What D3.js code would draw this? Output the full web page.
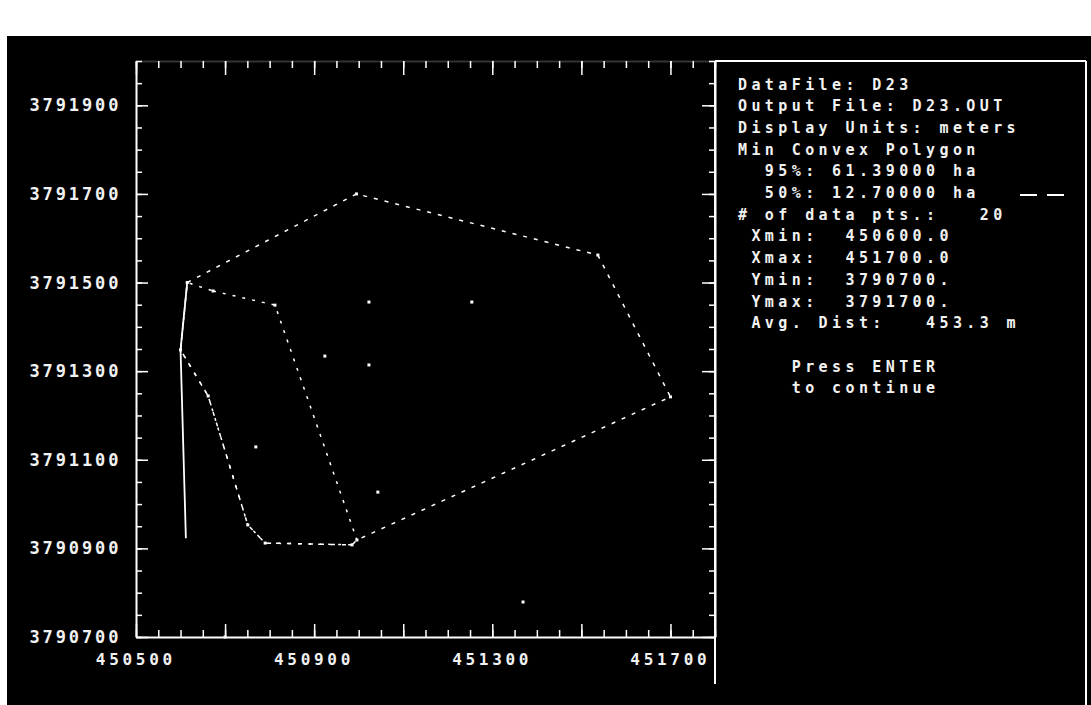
<!DOCTYPE html>
<html>
<head>
<meta charset="utf-8">
<script src="https://cdn.jsdelivr.net/npm/d3@7/dist/d3.min.js"></script>
<style>
  html, body { margin: 0; padding: 0; background: #fff; }
  svg { display: block; }
  text { font-family: "DejaVu Sans Mono", "Liberation Mono", monospace; font-weight: bold; fill: #f2f2f2; }
</style>
</head>
<body>
<script>
// Relocation fixes (UTM metres) for data file D23
const eastings  = [450615, 450995, 451537, 451700, 450996, 450985, 450790, 450751, 450662, 450600,
                   450673, 450812, 451023, 451254, 450924, 451023, 450769, 451043, 451369, 450700];
const northings = [3791500, 3791700, 3791562, 3791242, 3790919, 3790908, 3790912, 3790953, 3791244, 3791348,
                   3791481, 3791449, 3791456, 3791456, 3791334, 3791314, 3791129, 3791027, 3790779, 3790700];

// Minimum convex polygon outlines, as indices into the fixes
const mcp95 = [0, 1, 2, 3, 4, 5, 6, 7, 8, 9];
const mcp50 = [10, 11, 4, 5, 6, 7, 8, 9, 0];

// Straight line drawn down the western side
const westLineE = [450615, 450600, 450612];
const westLineN = [3791500, 3791348, 3790923];

// Axis extents and labelled ticks
const xExtent = [450500, 451800];
const yExtent = [3790700, 3792000];
const xLabels = [450500, 450900, 451300, 451700];
const yLabels = [3790700, 3790900, 3791100, 3791300, 3791500, 3791700, 3791900];

// Summary panel text
const infoLines = [
  "DataFile: D23",
  "Output File: D23.OUT",
  "Display Units: meters",
  "Min Convex Polygon",
  "  95%: 61.39000 ha",
  "  50%: 12.70000 ha",
  "# of data pts.:   20",
  " Xmin:  450600.0",
  " Xmax:  451700.0",
  " Ymin:  3790700.",
  " Ymax:  3791700.",
  " Avg. Dist:   453.3 m",
  "",
  "    Press ENTER",
  "    to continue"
];

const W = 1091, H = 705;
const svg = d3.select("body").append("svg").attr("width", W).attr("height", H);

// screen: white surround with black display area
svg.append("rect").attr("width", W).attr("height", H).attr("fill", "#fff");
svg.append("rect").attr("x", 7).attr("y", 36).attr("width", W - 7).attr("height", H - 36).attr("fill", "#000");

const x = d3.scaleLinear().domain(xExtent).range([136, 715]);
const y = d3.scaleLinear().domain(yExtent).range([637, 61]);

const minorX = d3.range(xExtent[0], xExtent[1] + 1, 50);
const majorX = d3.range(xExtent[0], xExtent[1] + 1, 200);
const minorY = d3.range(yExtent[0], yExtent[1] + 1, 50);
const majorY = d3.range(yExtent[0], yExtent[1] + 1, 200);

function styleAxis(g, showDomain, domainOpacity) {
  g.select(".domain")
    .attr("stroke", showDomain ? "#fff" : "none")
    .attr("stroke-width", 2)
    .attr("stroke-opacity", domainOpacity);
  g.selectAll(".tick line").attr("stroke", "#fff").attr("stroke-width", 1.5);
  g.selectAll(".tick text").remove();
}

const x0 = x.range()[0], x1 = x.range()[1];
const y0 = y.range()[0], y1 = y.range()[1];

// bottom axis, ticks pointing into the plot
svg.append("g").attr("transform", `translate(0,${y0})`)
  .call(d3.axisBottom(x).tickValues(minorX).tickSize(-7).tickSizeOuter(0).tickFormat(""))
  .call(g => styleAxis(g, true, 1));
svg.append("g").attr("transform", `translate(0,${y0})`)
  .call(d3.axisBottom(x).tickValues(majorX).tickSize(-13).tickSizeOuter(0).tickFormat(""))
  .call(g => styleAxis(g, false, 0));

// top axis
svg.append("g").attr("transform", `translate(0,${y1})`)
  .call(d3.axisTop(x).tickValues(minorX).tickSize(-7).tickSizeOuter(0).tickFormat(""))
  .call(g => styleAxis(g, true, 0.2));
svg.append("g").attr("transform", `translate(0,${y1})`)
  .call(d3.axisTop(x).tickValues(majorX).tickSize(-14).tickSizeOuter(0).tickFormat(""))
  .call(g => styleAxis(g, false, 0));

// left axis
svg.append("g").attr("transform", `translate(${x0},0)`)
  .call(d3.axisLeft(y).tickValues(minorY).tickSize(-6).tickSizeOuter(0).tickFormat(""))
  .call(g => styleAxis(g, true, 1));
svg.append("g").attr("transform", `translate(${x0},0)`)
  .call(d3.axisLeft(y).tickValues(majorY).tickSize(-12).tickSizeOuter(0).tickFormat(""))
  .call(g => styleAxis(g, false, 0));

// right axis
svg.append("g").attr("transform", `translate(${x1},0)`)
  .call(d3.axisRight(y).tickValues(minorY).tickSize(-6).tickSizeOuter(0).tickFormat(""))
  .call(g => styleAxis(g, true, 1));
svg.append("g").attr("transform", `translate(${x1},0)`)
  .call(d3.axisRight(y).tickValues(majorY).tickSize(-13).tickSizeOuter(0).tickFormat(""))
  .call(g => styleAxis(g, false, 0));

// axis labels
const yls = 2.9;
svg.append("g").selectAll("text").data(yLabels).join("text")
  .attr("x", x0 - 18 + yls + 0.5)
  .attr("y", d => y(d) + 6)
  .attr("text-anchor", "end")
  .style("font-size", "17px")
  .style("letter-spacing", yls + "px")
  .text(d3.format("d"));

const xls = 3.7;
svg.append("g").selectAll("text").data(xLabels).join("text")
  .attr("x", d => x(d) - 2 + xls / 2)
  .attr("y", y0 + 28)
  .attr("text-anchor", "middle")
  .style("font-size", "16px")
  .style("letter-spacing", xls + "px")
  .text(d3.format("d"));

// polygons
const line = d3.line().x(d => x(d[0])).y(d => y(d[1]));
const toCoords = idx => idx.map(i => [eastings[i], northings[i]]);

svg.append("path")
  .attr("d", line(toCoords(mcp95)) + "Z")
  .attr("fill", "none").attr("stroke", "#fff").attr("stroke-width", 1.5)
  .attr("stroke-dasharray", "4,7");

svg.append("path")
  .attr("d", line(toCoords(mcp50)) + "Z")
  .attr("fill", "none").attr("stroke", "#fff").attr("stroke-width", 1.5)
  .attr("stroke-dasharray", "3,7");

svg.append("path")
  .attr("d", line(westLineE.map((e, i) => [e, westLineN[i]])))
  .attr("fill", "none").attr("stroke", "#fff").attr("stroke-width", 1.8);

// fixes
svg.append("g").selectAll("rect").data(eastings).join("rect")
  .attr("x", (d, i) => x(d) - 1.5)
  .attr("y", (d, i) => y(northings[i]) - 1.5)
  .attr("width", 3).attr("height", 3)
  .attr("fill", "#fff");

// summary panel frame
const px0 = x1, px1 = 1086, pTop = y1;
svg.append("line").attr("x1", px0).attr("x2", px1).attr("y1", pTop).attr("y2", pTop)
  .attr("stroke", "#fff").attr("stroke-width", 2);
svg.append("line").attr("x1", px0).attr("x2", px0).attr("y1", pTop).attr("y2", 684)
  .attr("stroke", "#fff").attr("stroke-width", 2);
svg.append("line").attr("x1", px1).attr("x2", px1).attr("y1", pTop).attr("y2", H)
  .attr("stroke", "#fff").attr("stroke-width", 2);

// summary text
const tls = 4.4, rowH = 21.7, row0 = 89.5, textX = 738;
svg.append("g").selectAll("text").data(infoLines).join("text")
  .attr("x", textX)
  .attr("y", (d, i) => row0 + i * rowH)
  .style("font-size", "15px")
  .style("letter-spacing", tls + "px")
  .text(d => d.replace(/ /g, "\u00A0"));

// 50% outline key
const keyRow = infoLines.findIndex(s => s.includes("50%"));
svg.append("line")
  .attr("x1", 1020).attr("x2", 1066)
  .attr("y1", row0 + keyRow * rowH - 3).attr("y2", row0 + keyRow * rowH - 3)
  .attr("stroke", "#fff").attr("stroke-width", 1.8)
  .attr("stroke-dasharray", "17,10");
</script>
</body>
</html>
